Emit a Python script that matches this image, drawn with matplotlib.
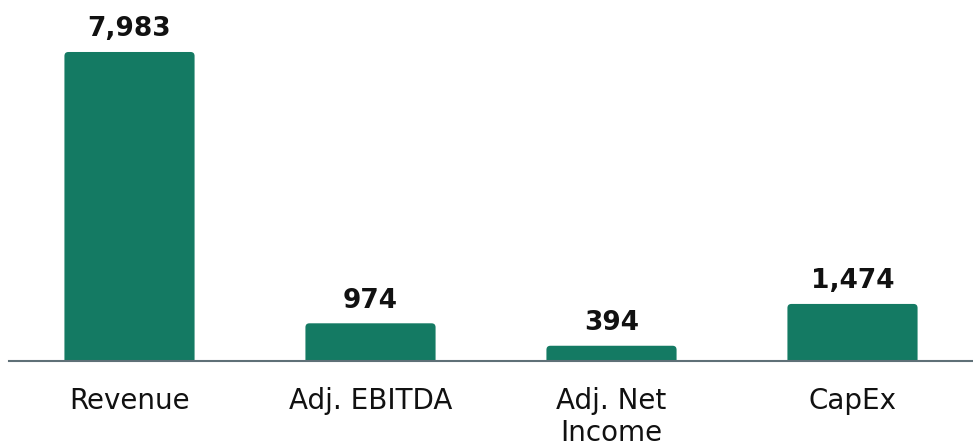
import matplotlib.pyplot as plt
from matplotlib.patches import FancyBboxPatch

# values
categories = ["Revenue", "Adj. EBITDA", "Adj. Net\nIncome", "CapEx"]
values = [7983, 974, 394, 1474]
value_labels = ["7,983", "974", "394", "1,474"]

bar_color = "#147A63"
axis_color = "#5F7077"

fig = plt.figure(figsize=(9.73, 4.45), dpi=100)
ax = fig.add_axes([9 / 973, 84 / 445, 964 / 973, 361 / 445])

ymax = 9326
x = range(len(categories))
bars = ax.bar(x, values, width=0.54, color=bar_color, zorder=2)

# swap the plain rectangles for ones with slightly rounded corners
px_x = 1 / 241          # data units per pixel, x
px_y = ymax / 361       # data units per pixel, y
for b in bars:
    bx, bw, bh = b.get_x(), b.get_width(), b.get_height()
    b.remove()
    p = FancyBboxPatch((bx, -6 * px_y), bw, bh + 6 * px_y,
                       boxstyle="round,pad=0,rounding_size=%f" % (4 * px_x),
                       mutation_aspect=px_y / px_x,
                       facecolor=bar_color, edgecolor="none", zorder=2)
    ax.add_patch(p)

for i, v in enumerate(values):
    ax.text(i, v + 250, value_labels[i], ha="center", va="bottom",
            fontsize=19, fontweight="bold", color="#111111")

ax.set_xlim(-0.5, len(categories) - 0.5)
ax.set_ylim(0, ymax)
ax.set_xticks(list(x))
ax.set_xticklabels(categories, fontsize=20, color="#111111", linespacing=1.15)
ax.tick_params(axis="x", length=0, pad=19)
ax.set_yticks([])

for s in ["top", "right", "left"]:
    ax.spines[s].set_visible(False)
ax.spines["bottom"].set_color(axis_color)
ax.spines["bottom"].set_linewidth(1.5)
ax.spines["bottom"].set_zorder(3)

fig.savefig("out.png", dpi=100)
